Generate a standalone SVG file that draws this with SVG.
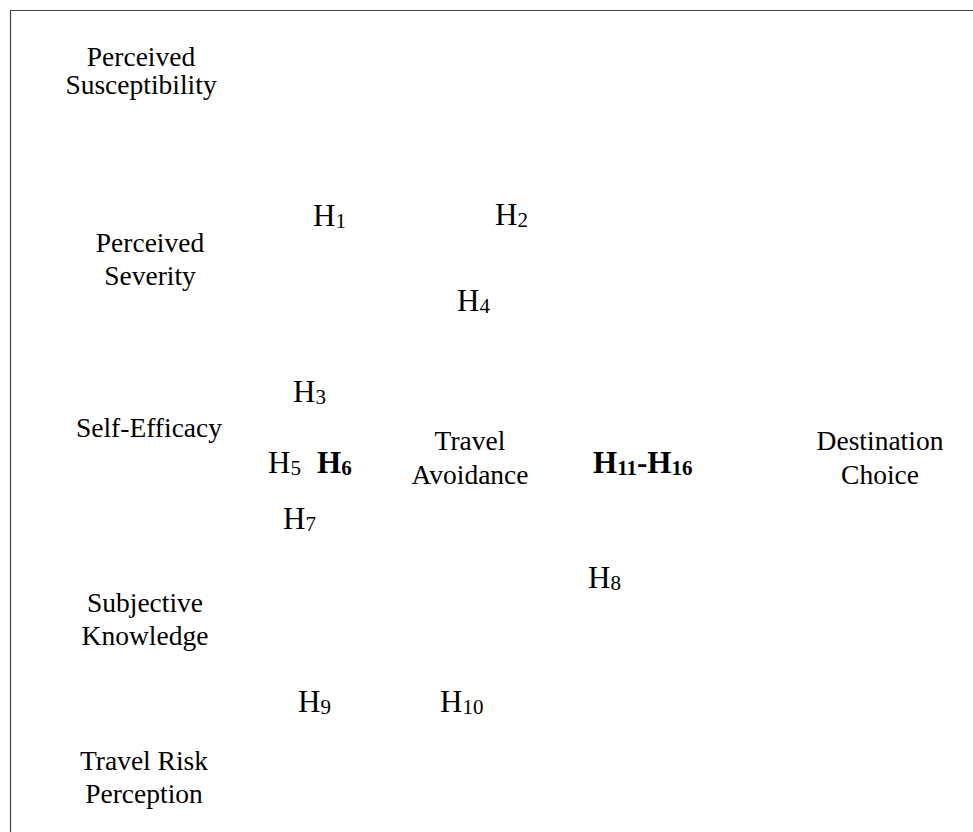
<svg xmlns="http://www.w3.org/2000/svg" width="973" height="832" viewBox="0 0 973 832">
<style>
.lbl{font-family:"Liberation Serif","Times New Roman",serif;font-size:27.5px;fill:#000;text-anchor:middle}
.h{font-family:"Liberation Serif","Times New Roman",serif;font-size:31px;fill:#000}
.b{font-weight:bold}
.s{font-size:21px}
</style>
<rect x="0" y="0" width="973" height="832" fill="#fff"/>
<path d="M10.5 832 V10.5 H973" fill="none" stroke="#444" stroke-width="1.2"/>
<g id="connectors"/>
<g id="perceived-susceptibility"><text class="lbl" x="141" y="66">Perceived</text><text class="lbl" x="141" y="94">Susceptibility</text></g>
<g id="perceived-severity"><text class="lbl" x="150" y="252">Perceived</text><text class="lbl" x="150" y="285">Severity</text></g>
<g id="self-efficacy"><text class="lbl" x="149" y="437">Self-Efficacy</text></g>
<g id="subjective-knowledge"><text class="lbl" x="145" y="612">Subjective</text><text class="lbl" x="145" y="645">Knowledge</text></g>
<g id="travel-risk-perception"><text class="lbl" x="144" y="770">Travel Risk</text><text class="lbl" x="144" y="803">Perception</text></g>
<g id="travel-avoidance"><text class="lbl" x="470" y="450">Travel</text><text class="lbl" x="470" y="484">Avoidance</text></g>
<g id="destination-choice"><text class="lbl" x="880" y="450">Destination</text><text class="lbl" x="880" y="484">Choice</text></g>
<g id="hypotheses">
<text class="h" x="313" y="226">H<tspan class="s" dy="2">1</tspan></text>
<text class="h" x="495" y="225">H<tspan class="s" dy="2">2</tspan></text>
<text class="h" x="457" y="311">H<tspan class="s" dy="2">4</tspan></text>
<text class="h" x="293" y="402">H<tspan class="s" dy="2">3</tspan></text>
<text class="h" x="268" y="473">H<tspan class="s" dy="2">5</tspan></text>
<text class="h b" x="317" y="473">H<tspan class="s" dy="2">6</tspan></text>
<text class="h" x="283" y="529">H<tspan class="s" dy="2">7</tspan></text>
<text class="h" x="588" y="588">H<tspan class="s" dy="2">8</tspan></text>
<text class="h" x="298" y="712">H<tspan class="s" dy="2">9</tspan></text>
<text class="h" x="440" y="712">H<tspan class="s" dy="2">10</tspan></text>
<text class="h b" x="593" y="473">H<tspan class="s" dy="2">11</tspan><tspan dy="-2">-H</tspan><tspan class="s" dy="2">16</tspan></text>
</g>
</svg>
